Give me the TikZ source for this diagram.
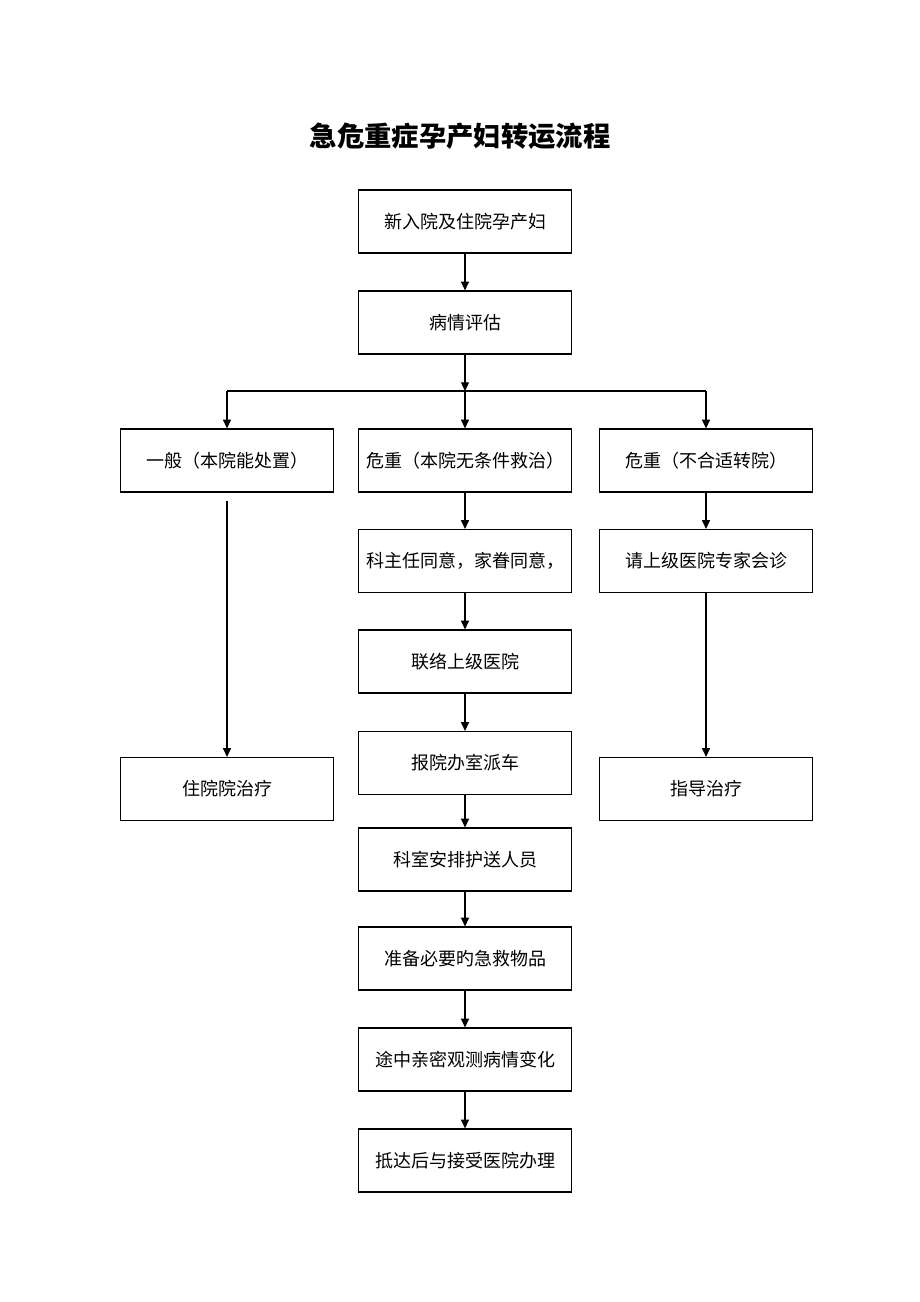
\documentclass[tikz,border=0pt]{standalone}
\usepackage{fontspec}
\setmainfont{Noto Sans CJK SC}
\usetikzlibrary{arrows.meta}

\begin{document}
\begin{tikzpicture}[x=0.75pt, y=-0.75pt,
every node/.style = {font=\fontsize{13.5}{16}\selectfont},
box/.style = {shape=rectangle, draw, line width=0.9pt,
	minimum width=159.75pt, minimum height=47.25pt, inner sep=0pt},
arr/.style = {line width=0.9pt, -{Triangle[length=6.5pt,width=6pt]}},
line width=0.9pt]
\useasboundingbox (0,0) rectangle (920,1302);
\node[font=\fontsize{20.5}{24}\selectfont\bfseries] (title) at (460,136) {急危重症孕产妇转运流程};
% main column
\node[box] (admit) at (465,221.5) {新入院及住院孕产妇};
\node[box] (assess) at (465,322.5) {病情评估};
\node[box] (general) at (227,460.5) {一般（本院能处置）};
\node[box] (severe) at (465,460.5) {危重（本院无条件救治）};
\node[box] (unfit) at (706,460.5) {危重（不合适转院）};
\node[box] (agree) at (465,561) {科主任同意，家眷同意，};
\node[box] (consult) at (706,561) {请上级医院专家会诊};
\node[box] (contact) at (465,661.5) {联络上级医院};
\node[box] (car) at (465,763) {报院办室派车};
\node[box] (staff) at (465,859.5) {科室安排护送人员};
\node[box] (supply) at (465,958.5) {准备必要旳急救物品};
\node[box] (watch) at (465,1059.5) {途中亲密观测病情变化};
\node[box] (arrive) at (465,1160.5) {抵达后与接受医院办理};
\node[box] (stay) at (227,789) {住院院治疗};
\node[box] (guide) at (706,789) {指导治疗};
\coordinate (fork) at (465,391);
\draw[arr] (admit) -- (assess);
\draw[arr] (assess) -- (fork);
\draw (general.north |- fork) -- (unfit.north |- fork);
\draw[arr] (general.north |- fork) -- (general);
\draw[arr] (fork) -- (severe);
\draw[arr] (unfit.north |- fork) -- (unfit);
\draw[arr, shorten <=6pt] (general) -- (stay);
\draw[arr] (unfit) -- (consult);
\draw[arr] (consult) -- (guide);
\draw[arr] (severe) -- (agree);
\draw[arr] (agree) -- (contact);
\draw[arr] (contact) -- (car);
\draw[arr] (car) -- (staff);
\draw[arr] (staff) -- (supply);
\draw[arr] (supply) -- (watch);
\draw[arr] (watch) -- (arrive);
\end{tikzpicture}
\end{document}
